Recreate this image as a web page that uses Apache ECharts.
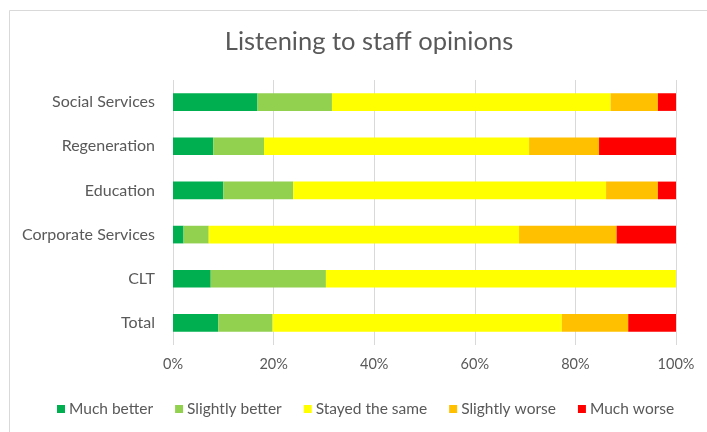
<!DOCTYPE html>
<html>
<head>
<meta charset="utf-8">
<script src="https://cdn.jsdelivr.net/npm/echarts@6/dist/echarts.min.js"></script>
<style>
html,body{margin:0;padding:0;background:#fff;}
#chart{width:707px;height:432px;}
</style>
</head>
<body>
<div id="chart"></div>
<script>
var categories = ['Social Services', 'Regeneration', 'Education', 'Corporate Services', 'CLT', 'Total'];
var seriesNames = ['Much better', 'Slightly better', 'Stayed the same', 'Slightly worse', 'Much worse'];
var muchBetter     = [16.8, 8.0, 10.0, 2.1, 7.5, 9.0];
var slightlyBetter = [14.8, 10.1, 13.9, 5.0, 22.9, 10.8];
var stayedSame     = [55.4, 52.7, 62.2, 61.7, 69.6, 57.5];
var slightlyWorse  = [9.4, 13.9, 10.3, 19.4, 0, 13.2];
var muchWorse      = [3.6, 15.3, 3.6, 11.8, 0, 9.5];
var tickValues = [0, 20, 40, 60, 80, 100];

var colors = ['#00B050', '#92D050', '#FFFF00', '#FFC000', '#FF0000'];
var values = [muchBetter, slightlyBetter, stayedSame, slightlyWorse, muchWorse];
var font = 'Lato, "Noto Sans", sans-serif';

var chart = echarts.init(document.getElementById('chart'), null, {renderer: 'canvas'});
var option = {
  animation: false,
  backgroundColor: '#fff',
  color: colors,
  graphic: [{
    type: 'rect', left: 7, top: 8, silent: true,
    shape: {width: 720, height: 440},
    style: {fill: 'none', stroke: '#d9d9d9', lineWidth: 1}
  }],
  title: {
    text: 'Listening to staff opinions',
    left: 364, top: 24, textAlign: 'center',
    textStyle: {fontFamily: font, fontSize: 25.5, fontWeight: 'normal', color: '#595959'}
  },
  legend: {
    data: seriesNames,
    left: 52, top: 396,
    itemWidth: 8, itemHeight: 8, itemGap: 22,
    icon: 'rect',
    textStyle: {fontFamily: font, fontSize: 15.5, color: '#595959', padding: [0, 0, 0, -1]}
  },
  grid: {left: 173, right: 31, top: 80, bottom: 87, containLabel: false},
  xAxis: {
    type: 'value', min: 0, max: 100, interval: 20,
    axisLine: {show: false}, axisTick: {show: false},
    splitLine: {lineStyle: {color: '#d9d9d9', width: 1}},
    axisLabel: {formatter: '{value}%', fontFamily: font, fontSize: 14.5, color: '#595959', margin: 12}
  },
  yAxis: {
    type: 'category', data: categories, inverse: true,
    axisLine: {show: false}, axisTick: {show: false},
    axisLabel: {fontFamily: font, fontSize: 16, color: '#595959', margin: 18}
  },
  series: seriesNames.map(function (n, i) {
    return {
      name: n, type: 'bar', stack: 'all', data: values[i],
      barCategoryGap: '60%',
      itemStyle: {color: colors[i]}
    };
  })
};
chart.setOption(option);
</script>
</body>
</html>
